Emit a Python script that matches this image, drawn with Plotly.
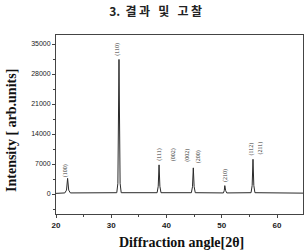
import plotly.graph_objects as go

# XRD trace (2theta in degrees, intensity in arb. units)
two_theta = [20.0, 21.6, 21.9, 22.1, 22.3, 22.6,
             31.0, 31.2, 31.4, 31.6, 31.8,
             38.3, 38.5, 38.65, 38.8, 39.0,
             44.5, 44.7, 44.85, 45.0, 45.2,
             50.3, 50.45, 50.55, 50.7, 50.9,
             55.3, 55.5, 55.65, 55.8, 56.0,
             64.7]
intensity = [150, 250, 900, 3650, 900, 250,
             300, 2500, 31400, 2500, 300,
             300, 1800, 6800, 1800, 300,
             300, 1700, 6100, 1700, 300,
             250, 800, 1950, 800, 250,
             300, 2000, 8100, 2000, 300,
             200]

# Miller index labels
hkl_labels = ["(100)", "(110)", "(111)", "(002)", "(002)", "(200)", "(210)", "(112)", "(211)"]
hkl_x = [21.75, 30.99, 38.70, 41.23, 43.66, 45.83, 50.59, 55.47, 56.92]
hkl_y = [5480, 33830, 9220, 9100, 9100, 8750, 4200, 10380, 10620]

y_ticks = [0, 7000, 14000, 21000, 28000, 35000]
y_ticktext = ["0", "7000", "14000", "21000", "28000", "35000"]
x_ticks = [20, 30, 40, 50, 60]

NB = "\u00a0"
title_text = "3." + NB * 2 + "결" + "\u2009" + "과" + NB * 3 + "및" + NB * 3 + "고" + "\u2009" + "찰"

fig = go.Figure()
fig.add_trace(go.Scatter(x=two_theta, y=intensity, mode="lines",
                         line=dict(color="#2a2a2a", width=1), showlegend=False))

for lab, lx, ly in zip(hkl_labels, hkl_x, hkl_y):
    fig.add_annotation(x=lx, y=ly, text=lab, textangle=-90, showarrow=False,
                       font=dict(family="Liberation Serif", size=6, color="#333333"))

# axis titles as annotations for precise placement
fig.add_annotation(xref="paper", yref="paper", x=-0.178, y=0.464, text="<b>Intensity [ arb.units]</b>",
                   textangle=-90, showarrow=False, xanchor="center", yanchor="middle",
                   font=dict(family="Liberation Serif", size=14, color="#111111"))
fig.add_annotation(xref="paper", yref="paper", x=0.51, y=-0.158, text="<b>Diffraction angle[2θ]</b>",
                   showarrow=False, xanchor="center", yanchor="middle",
                   font=dict(family="Liberation Serif", size=14, color="#111111"))

fig.update_layout(
    width=305, height=252,
    margin=dict(l=56, r=2, t=35, b=38),
    paper_bgcolor="white", plot_bgcolor="white",
    title=dict(text="<b>" + title_text + "</b>", x=0.51, xanchor="center", y=0.955, yanchor="middle",
               font=dict(family="Noto Sans CJK KR", size=12, color="#222222")),
    xaxis=dict(range=[20, 64.7], tickvals=x_ticks, ticks="outside", ticklen=3,
               tickfont=dict(family="Liberation Sans", size=8, color="#222222", weight="bold"),
               showline=True, linecolor="#444444", linewidth=1, mirror=True,
               showgrid=False, zeroline=False,
               minor=dict(dtick=5, tick0=20, ticks="outside", ticklen=2, tickcolor="#444444")),
    yaxis=dict(range=[-4667, 37100], tickvals=y_ticks, ticktext=y_ticktext, ticks="outside", ticklen=3,
               tickfont=dict(family="Liberation Sans", size=7, color="#222222"),
               showline=True, linecolor="#444444", linewidth=1, mirror=True,
               showgrid=False, zeroline=False,
               minor=dict(dtick=3500, tick0=0, ticks="outside", ticklen=2, tickcolor="#444444")),
)

fig.write_html("out.html")
